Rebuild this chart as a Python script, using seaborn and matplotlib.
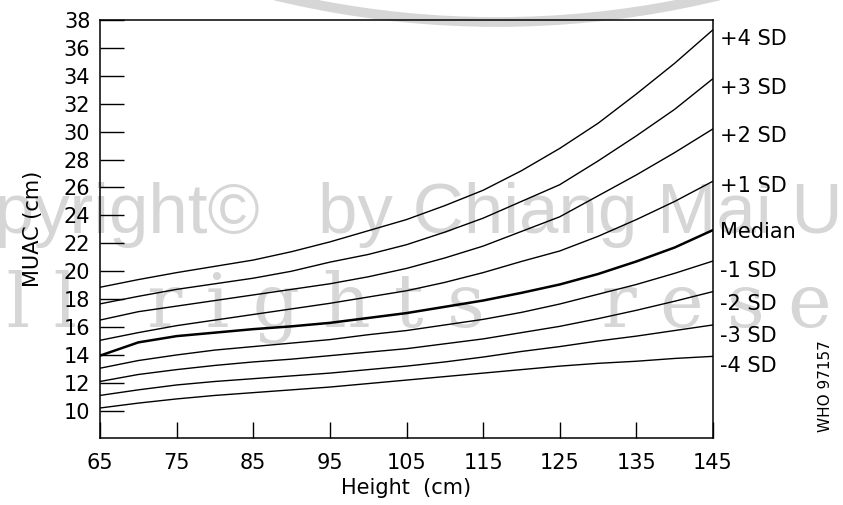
import numpy as np
import pandas as pd
import seaborn as sns
import matplotlib
matplotlib.use("Agg")
import matplotlib.pyplot as plt
from matplotlib.patches import Circle
from matplotlib.transforms import IdentityTransform

# Height (cm) where the curves were read
height = [65, 70, 75, 80, 85, 90, 95, 100, 105, 110, 115, 120, 125, 130, 135, 140, 145]

# MUAC (cm) for each reference curve
plus4 = [18.85, 19.4, 19.9, 20.35, 20.8, 21.4, 22.1, 22.9, 23.7, 24.7, 25.8, 27.2, 28.8, 30.6, 32.7, 34.9, 37.3]
plus3 = [17.66, 18.2, 18.7, 19.1, 19.5, 20.0, 20.65, 21.2, 21.9, 22.8, 23.8, 25.0, 26.2, 27.9, 29.7, 31.6, 33.8]
plus2 = [16.5, 17.1, 17.5, 17.9, 18.3, 18.7, 19.1, 19.6, 20.2, 20.95, 21.8, 22.85, 23.9, 25.4, 26.9, 28.5, 30.2]
plus1 = [15.05, 15.6, 16.1, 16.5, 16.9, 17.3, 17.7, 18.15, 18.6, 19.2, 19.9, 20.7, 21.45, 22.5, 23.7, 25.0, 26.45]
median = [13.95, 14.9, 15.35, 15.6, 15.85, 16.05, 16.3, 16.65, 17.0, 17.45, 17.9, 18.45, 19.05, 19.8, 20.7, 21.7, 22.95]
minus1 = [13.05, 13.6, 14.0, 14.35, 14.6, 14.85, 15.1, 15.45, 15.75, 16.15, 16.55, 17.05, 17.65, 18.35, 19.05, 19.85, 20.73]
minus2 = [12.1, 12.6, 12.95, 13.25, 13.5, 13.7, 13.95, 14.2, 14.45, 14.8, 15.15, 15.6, 16.05, 16.6, 17.2, 17.85, 18.54]
minus3 = [11.1, 11.5, 11.85, 12.1, 12.3, 12.5, 12.7, 12.95, 13.2, 13.5, 13.85, 14.25, 14.6, 15.0, 15.35, 15.75, 16.15]
minus4 = [10.2, 10.55, 10.85, 11.1, 11.3, 11.5, 11.7, 11.95, 12.2, 12.45, 12.7, 12.95, 13.2, 13.4, 13.55, 13.75, 13.9]

curve_names = ['+4 SD', '+3 SD', '+2 SD', '+1 SD', 'Median', '-1 SD', '-2 SD', '-3 SD', '-4 SD']
curve_values = [plus4, plus3, plus2, plus1, median, minus1, minus2, minus3, minus4]

x_ticks = [65, 75, 85, 95, 105, 115, 125, 135, 145]
y_ticks = list(range(10, 39, 2))

# vertical nudge (points) of each right-hand label from its line end
label_dy = [-7, -6.5, -5, -3.6, -1.4, -7.2, -8.6, -7.9, -7.2]

# long-form table for seaborn
rows = []
for name, vals in zip(curve_names, curve_values):
    for h, v in zip(height, vals):
        rows.append((name, h, v))
df = pd.DataFrame(rows, columns=['curve', 'height', 'muac'])

sns.set_style("ticks")
plt.rcParams['font.family'] = ['DejaVu Sans']
for key in ['text.color', 'axes.labelcolor', 'xtick.color', 'ytick.color', 'axes.edgecolor']:
    plt.rcParams[key] = 'black'

fig = plt.figure(figsize=(8.43, 5.05), dpi=100)
ax = fig.add_axes([100 / 843, 1 - 438 / 505, 613 / 843, 418 / 505])
ax.set_facecolor('none')

# watermark behind the chart
wm = '#d6d6d6'
ring = Circle((497, 505 + 922), 944, fill=False, edgecolor=wm, lw=7,
              transform=IdentityTransform(), zorder=-1)
fig.add_artist(ring)
fig.text(260 / 843, 1 - 233 / 505, 'Copyright\u00a9', fontsize=51,
         family='Liberation Sans', color=wm, ha='right', va='baseline', zorder=-1)
fig.text(318 / 843, 1 - 233 / 505, 'by Chiang Mai University', fontsize=51,
         family='Liberation Sans', color=wm, ha='left', va='baseline', zorder=-1)
fig.text(-70 / 843, 1 - 327 / 505, 'A l l   r i g h t s     r e s e r v e d', fontsize=53,
         family='DejaVu Serif', color=wm, ha='left', va='baseline', zorder=-1)

sns.lineplot(data=df, x='height', y='muac', hue='curve', size='curve',
             palette={n: 'black' for n in curve_names},
             sizes={n: (1.8 if n == 'Median' else 1.0) for n in curve_names},
             estimator=None, sort=False, legend=False, ax=ax)

ax.set_xlim(65, 145)
ax.set_ylim(8.05, 38)
ax.set_xticks(x_ticks)
ax.set_yticks(y_ticks)
ax.tick_params(axis='y', left=True, direction='in', length=17.5, width=1, pad=7, labelsize=15)
ax.tick_params(axis='x', bottom=True, direction='in', length=11.5, width=1, pad=11, labelsize=15)
for s in ax.spines.values():
    s.set_visible(True)
    s.set_linewidth(1.1)

ax.set_xlabel('Height  (cm)', fontsize=15)
ax.set_ylabel('MUAC (cm)', fontsize=15)
ax.xaxis.set_label_coords(0.5, -0.096)
ax.yaxis.set_label_coords(-0.093, 0.5)

# curve names at the right end of each line
for name, vals, dy in zip(curve_names, curve_values, label_dy):
    ax.annotate(name, xy=(height[-1], vals[-1]), xytext=(5, dy), textcoords='offset points',
                ha='left', va='center', fontsize=15, annotation_clip=False)

fig.text(825 / 843, 1 - 386 / 505, 'WHO 97157', rotation=90, fontsize=11,
         ha='center', va='center')

plt.savefig('out.png', dpi=100)
